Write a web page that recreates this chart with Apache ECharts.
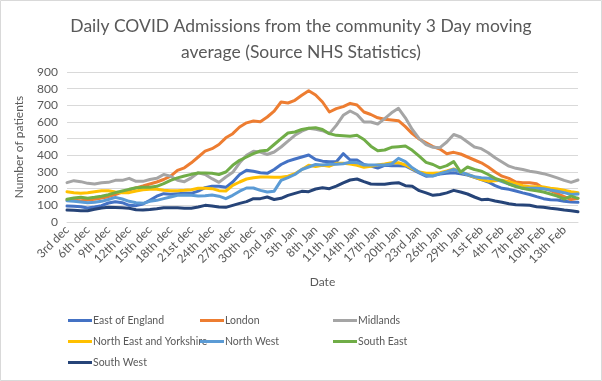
<!DOCTYPE html>
<html>
<head>
<meta charset="utf-8">
<script src="https://cdn.jsdelivr.net/npm/echarts@6/dist/echarts.min.js"></script>
<style>
html,body{margin:0;padding:0;background:#fff;}
#chart{width:602px;height:381px;}
</style>
</head>
<body>
<div id="chart"></div>
<script>
const dates = ["3rd dec","4th dec","5th dec","6th dec","7th dec","8th dec","9th dec","10th dec","11th dec","12th dec","13th dec","14th dec","15th dec","16th dec","17th dec","18th dec","19th dec","20th dec","21st dec","22nd dec","23rd dec","24th dec","25th dec","26th dec","27th dec","28th dec","29th dec","30th dec","31st dec",
"1st Jan","2nd Jan","3rd Jan","4th Jan","5th Jan","6th Jan","7th Jan","8th Jan","9th Jan","10th Jan","11th Jan","12th Jan","13th Jan","14th Jan","15th Jan","16th Jan","17th Jan","18th Jan","19th Jan","20th Jan","21st Jan","22nd Jan","23rd Jan","24th Jan","25th Jan","26th Jan","27th Jan","28th Jan","29th Jan","30th Jan","31st Jan",
"1st Feb","2nd Feb","3rd Feb","4th Feb","5th Feb","6th Feb","7th Feb","8th Feb","9th Feb","10th Feb","11th Feb","12th Feb","13th Feb","14th Feb","15th Feb"];

const eastOfEngland = [96,95,92,84,90,98,114,122,116,100,98,108,130,155,170,166,170,172,172,185,206,215,214,208,240,285,310,305,296,292,315,345,365,378,390,402,375,365,362,362,410,372,372,345,335,324,340,338,338,336,315,295,275,278,288,292,296,290,282,268,255,240,218,202,196,186,175,165,152,140,134,132,125,120,118];
const london = [132,130,128,132,136,144,152,165,180,192,205,216,228,240,255,275,310,325,355,390,425,440,465,505,530,570,595,606,602,630,665,720,714,730,760,788,762,720,660,680,692,712,702,660,645,625,616,612,608,572,530,498,475,452,438,410,418,408,390,372,355,330,300,275,262,240,236,235,230,202,190,170,152,135,142];
const midlands = [236,248,242,232,228,236,238,250,250,262,244,244,255,262,285,275,250,242,265,295,285,260,238,270,298,355,400,425,420,405,420,450,485,520,545,562,556,548,530,580,640,666,645,600,600,588,620,655,682,625,555,500,465,448,446,480,525,510,480,450,440,415,385,360,335,322,315,305,298,290,278,265,250,238,252];
const northEastYorkshire = [182,176,172,176,182,188,188,180,176,176,186,194,196,196,190,188,188,190,194,202,202,200,188,186,220,240,258,266,270,270,268,268,275,290,315,340,333,340,335,352,352,348,340,328,335,342,348,356,356,342,320,300,292,292,296,306,318,300,285,270,255,245,248,250,242,230,218,212,212,210,202,198,190,182,176];
const northWest = [128,124,120,116,118,124,135,148,138,124,116,112,124,130,140,150,160,162,160,156,158,162,155,140,160,185,204,204,190,180,185,250,266,285,315,330,345,342,346,346,350,358,356,342,342,342,342,348,382,362,325,298,280,276,290,302,316,300,285,272,265,262,258,242,228,215,202,202,202,200,192,185,176,165,168];
const southEast = [136,144,148,142,148,155,164,176,186,196,205,208,208,214,230,250,265,276,286,294,294,292,285,300,340,370,390,410,426,430,465,500,534,540,555,562,566,555,530,520,518,515,520,495,455,428,432,448,452,456,430,395,358,345,325,338,362,300,330,315,305,285,262,248,228,212,202,194,188,180,168,155,138,155,142];
const southWest = [72,70,68,68,76,84,88,87,85,82,74,72,75,80,86,86,85,82,82,90,100,96,90,88,100,112,122,140,140,150,135,142,160,172,184,182,198,205,200,215,235,252,258,242,228,226,226,232,236,218,214,188,175,160,165,175,190,180,168,150,134,136,126,118,110,104,102,100,92,88,82,78,72,68,62];

const seriesNames = ["East of England","London","Midlands","North East and Yorkshire","North West","South East","South West"];
const seriesData = [eastOfEngland, london, midlands, northEastYorkshire, northWest, southEast, southWest];
const colors = ["#4472C4","#ED7D31","#A5A5A5","#FFC000","#5B9BD5","#70AD47","#264478"];

const FONT = "Lato";
const TXT = "#595959";

const chart = echarts.init(document.getElementById('chart'), null, {renderer:'canvas'});

function legendCol(names, left){
  return {
    orient:'vertical', left:left, top:310, itemGap:10,
    icon:'rect', itemWidth:24, itemHeight:3,
    textStyle:{color:TXT, fontFamily:FONT, fontSize:10.5, padding:[0,0,0,-4]},
    data:names
  };
}

chart.setOption({
  animation:false,
  color:colors,
  textStyle:{fontFamily:FONT},
  title:{
    text:"Daily COVID Admissions from the community 3 Day moving\naverage (Source NHS Statistics)",
    left:'center', top:8,
    textStyle:{color:TXT, fontFamily:FONT, fontSize:17.5, fontWeight:'normal', lineHeight:26}
  },
  graphic:[{type:'rect', shape:{x:0.5,y:0.5,width:601,height:380}, style:{fill:'none', stroke:'#d9d9d9', lineWidth:1}}],
  legend:[
    legendCol(["East of England","North East and Yorkshire","South West"], 63),
    legendCol(["London","North West"], 195),
    legendCol(["Midlands","South East"], 328)
  ],
  grid:{left:67, right:24, top:72, bottom:159, containLabel:false},
  xAxis:{
    type:'category', data:dates, boundaryGap:false,
    name:'Date', nameLocation:'middle', nameGap:54,
    nameTextStyle:{color:TXT, fontFamily:FONT, fontSize:12},
    axisLine:{lineStyle:{color:'#d9d9d9'}},
    axisTick:{show:false},
    axisLabel:{interval:2, rotate:45, color:TXT, fontFamily:FONT, fontSize:12, margin:6},
    splitLine:{show:false}
  },
  yAxis:{
    type:'value', min:0, max:900, interval:100,
    name:'Number of patients', nameLocation:'middle', nameGap:42, nameRotate:90,
    nameTextStyle:{color:TXT, fontFamily:FONT, fontSize:12},
    axisLine:{show:false}, axisTick:{show:false},
    axisLabel:{color:TXT, fontFamily:FONT, fontSize:12, margin:9},
    splitLine:{lineStyle:{color:'#d9d9d9', width:1}}
  },
  series: seriesNames.map((n,i)=>({
    name:n, type:'line', data:seriesData[i], showSymbol:false, symbol:'none',
    lineStyle:{width:3, color:colors[i], join:'round', cap:'round'},
    itemStyle:{color:colors[i]}
  }))
});
</script>
</body>
</html>
